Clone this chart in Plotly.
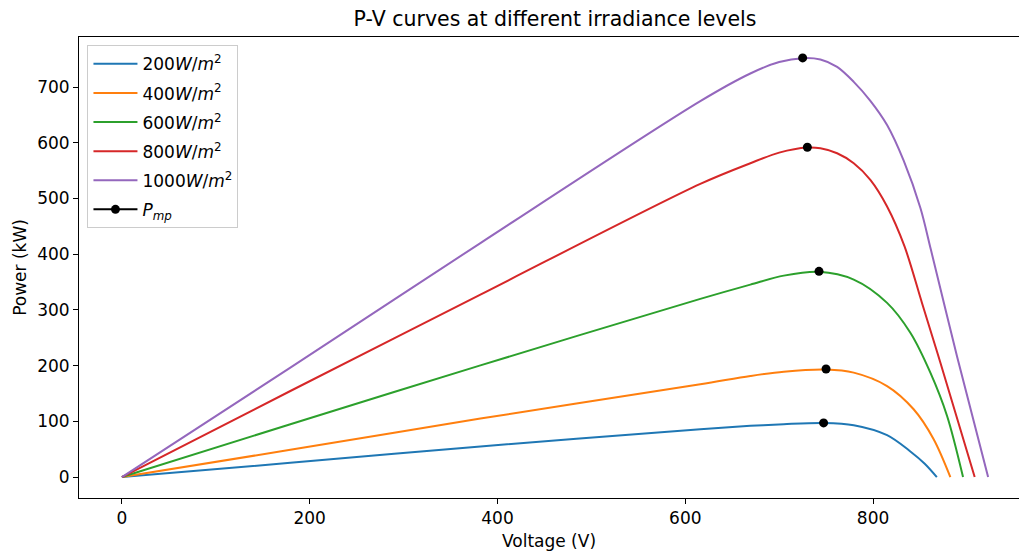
import plotly.graph_objects as go

# ---- data ----
labels = ["200", "400", "600", "800", "1000"]
colors = ["#1f77b4", "#ff7f0e", "#2ca02c", "#d62728", "#9467bd"]

v_200 = [0, 179.4, 381.8, 616, 669.3, 704.9, 747.3, 779.4, 814.9, 839.7, 855, 867.9]
p_200 = [0, 25.5, 54.9, 85.9, 91.9, 94.9, 97.0, 93.1, 75.2, 46, 24, 0]

v_400 = [0, 179.4, 381.8, 616, 669.3, 704.9, 749.9, 779.4, 814.9, 843.2, 864.5, 882.3]
p_400 = [0, 48.9, 105, 166.5, 181.4, 189.2, 193.0, 187.5, 163.4, 121.7, 68, 0]

v_600 = [0, 179.4, 381.8, 616, 669.3, 704.9, 742.4, 779.4, 814.9, 839.7, 861, 878.8, 895.8]
p_600 = [0, 94.9, 200.5, 319.9, 345.5, 361.6, 368.5, 354.5, 312.7, 259, 187.4, 109.7, 0]

v_800 = [0, 179.4, 381.8, 616, 669.3, 700, 730, 743.9, 761.7, 779.4, 797.1, 814.9, 833.5, 852, 871.7, 908.2]
p_800 = [0, 154.5, 327.6, 526.3, 563.4, 582.4, 591.5, 590.2, 581.3, 563.4, 533.5, 485.7, 414, 313, 205.3, 0]

v_1000 = [0, 179.4, 381.8, 616, 669.3, 700, 725, 743.9, 761.7, 779.4, 797.1, 814.9, 832.6, 850.4, 861.6, 889.5, 922.5]
p_1000 = [0, 196.4, 420.1, 674.9, 724.5, 745, 752.0, 749.5, 736.3, 709.5, 675.5, 632, 568, 483, 408, 216, 0]

v_mp = [747.3, 749.9, 742.4, 730.0, 725.0]
p_mp = [97.2, 193.9, 369.3, 592.0, 752.4]

voltages = [v_200, v_400, v_600, v_800, v_1000]
powers = [p_200, p_400, p_600, p_800, p_1000]

fig = go.Figure()
for i, (lab, col, vv, pp) in enumerate(zip(labels, colors, voltages, powers)):
    fig.add_trace(go.Scatter(
        x=vv, y=pp, mode="lines",
        line=dict(color=col, width=2, shape="spline", smoothing=0.9),
        name=f"{lab}<i>W</i>/<i>m</i><sup>2</sup>",
        legendgroup=f"g{i}",
    ))

# Pmp markers: separate points (no connecting line), legend shows line + marker
mx, my = [], []
for a, b in zip(v_mp, p_mp):
    mx += [a, None]
    my += [b, None]
fig.add_trace(go.Scatter(
    x=mx, y=my, mode="lines+markers",
    line=dict(color="black", width=2),
    marker=dict(color="black", size=9),
    name="<i>P</i><sub><i>mp</i></sub>",
    legendgroup="gmp",
    connectgaps=False,
))

axis_font = dict(family="DejaVu Sans", size=17, color="black")

fig.update_layout(
    width=1019, height=551,
    margin=dict(l=79, r=0, t=37, b=53),
    paper_bgcolor="white", plot_bgcolor="white",
    font=axis_font,
    title=dict(text="P-V curves at different irradiance levels",
               x=555 / 1019, xanchor="center", xref="container",
               y=1 - 19 / 551, yanchor="middle", yref="container",
               font=dict(family="DejaVu Sans", size=20.5, color="black")),
    showlegend=True,
    legend=dict(x=0.009, y=0.982, xanchor="left", yanchor="top",
                bgcolor="rgba(255,255,255,0.8)", bordercolor="#cccccc", borderwidth=1,
                font=dict(family="DejaVu Sans", size=17, color="black"),
                itemwidth=44,
                tracegroupgap=4, traceorder="grouped"),
)

fig.update_xaxes(
    range=[-45.7, 955.4], tickvals=[0, 200, 400, 600, 800],
    showgrid=False, zeroline=False,
    showline=True, linecolor="black", linewidth=1, mirror=True,
    ticks="outside", ticklen=5, tickcolor="black", tickwidth=1,
    tickfont=axis_font,
    title=dict(text="Voltage (V)", font=axis_font, standoff=8),
)
fig.update_yaxes(
    range=[-37.6, 790], tickvals=[0, 100, 200, 300, 400, 500, 600, 700],
    showgrid=False, zeroline=False,
    showline=True, linecolor="black", linewidth=1,
    ticks="outside", ticklen=5, tickcolor="black", tickwidth=1,
    tickfont=axis_font,
    title=dict(text="Power (kW)", font=axis_font, standoff=6),
)

fig.write_html("out.html")
